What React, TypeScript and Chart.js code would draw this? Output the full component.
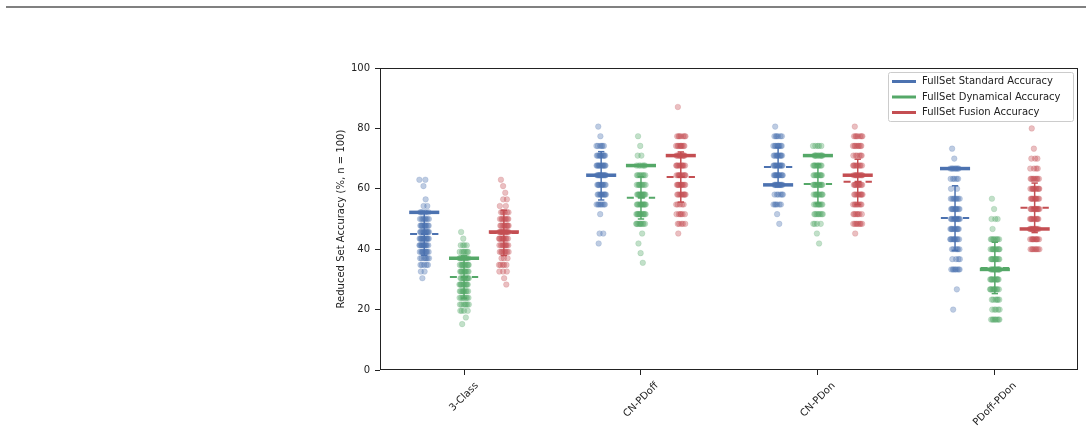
import React, { useEffect, useRef } from 'react';
import { Chart, registerables } from 'chart.js';
Chart.register(...registerables);

const categories = ['3-Class', 'CN-PDoff', 'CN-PDon', 'PDoff-PDon'];
const seriesNames = ['FullSet Standard Accuracy', 'FullSet Dynamical Accuracy', 'FullSet Fusion Accuracy'];
const seriesColors = ['#4C72B0', '#55A868', '#C44E52'];
const seriesFill = ['rgba(76,114,176,0.36)', 'rgba(85,168,104,0.36)', 'rgba(196,78,82,0.36)'];
const yTicks = [0, 20, 40, 60, 80, 100];
const yTitle = 'Reduced Set Accuracy (%, n = 100)';

// Full-set accuracy (solid lines), per category
const fullSetStandard = [52.2, 64.5, 61.3, 66.7];
const fullSetDynamical = [37.0, 67.7, 71.0, 33.3];
const fullSetFusion = [45.7, 71.0, 64.5, 46.7];

// Reduced-set mean (dashed lines) and std (error bars), per category
const reducedMeanStandard = [45.0, 64.3, 67.2, 50.3];
const reducedMeanDynamical = [30.8, 57.0, 61.6, 33.8];
const reducedMeanFusion = [45.4, 63.9, 62.3, 53.7];
const reducedStdStandard = [7.0, 8.0, 6.5, 10.7];
const reducedStdDynamical = [7.0, 7.0, 6.5, 8.5];
const reducedStdFusion = [7.5, 8.3, 7.5, 8.2];

// Reduced-set accuracies as [value, count]
const standard3Class: [number, number][] = [[63.0, 2], [60.9, 1], [56.5, 1], [54.3, 2], [52.2, 6], [50.0, 8], [47.8, 10], [45.7, 12], [43.5, 12], [41.3, 12], [39.1, 10], [37.0, 7], [34.8, 5], [32.6, 2], [30.4, 1]];
const dynamical3Class: [number, number][] = [[45.7, 1], [43.5, 1], [41.3, 4], [39.1, 7], [37.0, 9], [34.8, 10], [32.6, 10], [30.4, 10], [28.3, 10], [26.1, 9], [23.9, 8], [21.7, 7], [19.6, 4], [17.4, 1], [15.2, 1]];
const fusion3Class: [number, number][] = [[63.0, 1], [60.9, 1], [58.7, 1], [56.5, 2], [54.3, 2], [52.2, 6], [50.0, 8], [47.8, 9], [45.7, 12], [43.5, 10], [41.3, 9], [39.1, 8], [37.0, 3], [34.8, 5], [32.6, 3], [30.4, 1], [28.3, 1]];

const standardCNPDoff: [number, number][] = [[80.6, 1], [77.4, 1], [74.2, 6], [71.0, 10], [67.7, 12], [64.5, 14], [61.3, 10], [58.1, 10], [54.8, 8], [51.6, 1], [45.2, 2], [41.9, 1]];
const dynamicalCNPDoff: [number, number][] = [[77.4, 1], [74.2, 1], [71.0, 2], [67.7, 6], [64.5, 8], [61.3, 9], [58.1, 12], [54.8, 12], [51.6, 12], [48.4, 10], [45.2, 1], [41.9, 1], [38.7, 1], [35.5, 1]];
const fusionCNPDoff: [number, number][] = [[87.1, 1], [77.4, 7], [74.2, 9], [71.0, 10], [67.7, 10], [64.5, 10], [61.3, 10], [58.1, 9], [54.8, 5], [51.6, 6], [48.4, 5], [45.2, 1]];

const standardCNPDon: [number, number][] = [[80.6, 1], [77.4, 6], [74.2, 9], [71.0, 10], [67.7, 12], [64.5, 12], [61.3, 12], [58.1, 6], [54.8, 6], [51.6, 1], [48.4, 1]];
const dynamicalCNPDon: [number, number][] = [[74.2, 5], [71.0, 10], [67.7, 10], [64.5, 10], [61.3, 12], [58.1, 10], [54.8, 9], [51.6, 8], [48.4, 4], [45.2, 1], [41.9, 1]];
const fusionCNPDon: [number, number][] = [[80.6, 1], [77.4, 7], [74.2, 8], [71.0, 6], [67.7, 9], [64.5, 10], [61.3, 10], [58.1, 9], [54.8, 8], [51.6, 7], [48.4, 8], [45.2, 1]];

const standardPDoffPDon: [number, number][] = [[73.3, 1], [70.0, 1], [66.7, 8], [63.3, 5], [60.0, 2], [56.7, 8], [53.3, 10], [50.0, 12], [46.7, 10], [43.3, 10], [40.0, 6], [36.7, 4], [33.3, 8], [26.7, 1], [20.0, 1]];
const dynamicalPDoffPDon: [number, number][] = [[56.7, 1], [53.3, 1], [50.0, 3], [46.7, 1], [43.3, 8], [40.0, 10], [36.7, 10], [33.3, 14], [30.0, 10], [26.7, 10], [23.3, 6], [20.0, 5], [16.7, 8]];
const fusionPDoffPDon: [number, number][] = [[80.0, 1], [73.3, 1], [70.0, 3], [66.7, 4], [63.3, 8], [60.0, 10], [56.7, 10], [53.3, 12], [50.0, 10], [46.7, 12], [43.3, 10], [40.0, 8]];

const reducedData = [
  [standard3Class, standardCNPDoff, standardCNPDon, standardPDoffPDon],
  [dynamical3Class, dynamicalCNPDoff, dynamicalCNPDon, dynamicalPDoffPDon],
  [fusion3Class, fusionCNPDoff, fusionCNPDon, fusionPDoffPDon],
];
const fullSet = [fullSetStandard, fullSetDynamical, fullSetFusion];
const reducedMean = [reducedMeanStandard, reducedMeanDynamical, reducedMeanFusion];
const reducedStd = [reducedStdStandard, reducedStdDynamical, reducedStdFusion];

const GROUP_OFFSET = [-0.225, 0, 0.225];
const JITTER = 0.055;
const HALF_LINE = 0.085;
const HALF_DASH = 0.08;
const HALF_CAP = 0.018;
const FONT = "'DejaVu Sans', sans-serif";

function frac(v: number) { return v - Math.floor(v); }

const overlayPlugin = {
  id: 'overlay',
  afterDraw(chart: any) {
    const { ctx, chartArea } = chart;
    const xs = chart.scales.x;
    ctx.save();
    // frame
    ctx.strokeStyle = '#222';
    ctx.lineWidth = 1;
    ctx.strokeRect(Math.round(chartArea.left) + 0.5, Math.round(chartArea.top) + 0.5,
      Math.round(chartArea.right - chartArea.left) - 1, Math.round(chartArea.bottom - chartArea.top) - 1);
    // x labels, rotated 45, centered like matplotlib
    ctx.font = `10px ${FONT}`;
    ctx.fillStyle = '#222';
    ctx.textAlign = 'center';
    ctx.textBaseline = 'middle';
    const h = 11.6;
    categories.forEach((c, i) => {
      const w = ctx.measureText(c).width;
      const side = (w + h) / Math.SQRT2;
      const cx = xs.getPixelForValue(i);
      const cy = chartArea.bottom + 10 + side / 2;
      ctx.save();
      ctx.translate(cx, cy);
      ctx.rotate(-Math.PI / 4);
      ctx.fillText(c, 0, 0);
      ctx.restore();
    });
    // legend
    const bx = 888.5, by = 72.5, bw = 185, bh = 49;
    ctx.beginPath();
    if ((ctx as any).roundRect) (ctx as any).roundRect(bx, by, bw, bh, 2); else ctx.rect(bx, by, bw, bh);
    ctx.fillStyle = 'rgba(255,255,255,0.8)';
    ctx.fill();
    ctx.strokeStyle = '#cccccc';
    ctx.lineWidth = 1;
    ctx.stroke();
    ctx.textAlign = 'left';
    const rows = [81.5, 97, 112.5];
    seriesNames.forEach((n, i) => {
      ctx.strokeStyle = seriesColors[i];
      ctx.lineWidth = 3;
      ctx.beginPath();
      ctx.moveTo(892, rows[i]);
      ctx.lineTo(916, rows[i]);
      ctx.stroke();
      ctx.fillStyle = '#222';
      ctx.fillText(n, 922, rows[i]);
    });
    ctx.restore();
  },
};

export default function App() {
  const ref = useRef<HTMLCanvasElement>(null);
  useEffect(() => {
    if (!ref.current) return;
    const datasets: any[] = [];
    for (let s = 0; s < 3; s++) {
      for (let c = 0; c < 4; c++) {
        const cx = c + GROUP_OFFSET[s];
        const pts: any[] = [];
        reducedData[s][c].forEach(([v, n], k) => {
          for (let j = 0; j < n; j++) {
            const off = n === 1 ? (frac(k * 0.37) - 0.5) * JITTER * 0.6 : (frac(j * 0.618034 + k * 0.2718) - 0.5) * JITTER;
            pts.push({ x: cx + off, y: v });
          }
        });
        datasets.push({
          data: pts, showLine: false, pointRadius: 2.8, pointHoverRadius: 2.8,
          backgroundColor: seriesFill[s], borderColor: seriesFill[s], pointBorderWidth: 0.5, order: 5,
        });
        const m = reducedMean[s][c], sd = reducedStd[s][c];
        // error bar
        datasets.push({
          data: [{ x: cx, y: m - sd }, { x: cx, y: m + sd }], showLine: true, pointRadius: 0,
          borderColor: seriesColors[s], borderWidth: 1.5, order: 3,
        });
        [m - sd, m + sd].forEach((yv) => datasets.push({
          data: [{ x: cx - HALF_CAP, y: yv }, { x: cx + HALF_CAP, y: yv }], showLine: true, pointRadius: 0,
          borderColor: seriesColors[s], borderWidth: 1.5, order: 3,
        }));
        // dashed mean
        datasets.push({
          data: [{ x: cx - HALF_DASH, y: m }, { x: cx + HALF_DASH, y: m }], showLine: true, pointRadius: 0,
          borderColor: seriesColors[s], borderWidth: 2, borderDash: [7, 4], order: 2,
        });
        // solid full-set
        datasets.push({
          data: [{ x: cx - HALF_LINE, y: fullSet[s][c] }, { x: cx + HALF_LINE, y: fullSet[s][c] }], showLine: true, pointRadius: 0,
          borderColor: seriesColors[s], borderWidth: 3.5, order: 1,
        });
      }
    }
    const chart = new Chart(ref.current, {
      type: 'scatter',
      data: { datasets },
      options: {
        responsive: false,
        animation: false,
        devicePixelRatio: 1,
        events: [],
        layout: { padding: { left: 335, right: 14, top: 68, bottom: 0 } },
        plugins: { legend: { display: false }, tooltip: { enabled: false } },
        scales: {
          x: {
            type: 'linear', min: -0.475, max: 3.47,
            afterBuildTicks: (sc: any) => { sc.ticks = categories.map((_, i) => ({ value: i })); },
            afterFit: (sc: any) => { sc.height = 65; },
            ticks: { display: false },
            grid: { drawOnChartArea: false, drawTicks: true, tickLength: 5, color: '#222' },
            border: { display: false },
          },
          y: {
            type: 'linear', min: 0, max: 100,
            afterBuildTicks: (sc: any) => { sc.ticks = yTicks.map((v) => ({ value: v })); },
            afterFit: (sc: any) => { sc.width = 45; },
            ticks: { color: '#222', font: { family: FONT, size: 10 }, padding: 5 },
            grid: { drawOnChartArea: false, drawTicks: true, tickLength: 5, color: '#222' },
            border: { display: false },
            title: { display: true, text: yTitle, color: '#222', font: { family: FONT, size: 10 }, padding: 0 },
          },
        },
      },
      plugins: [overlayPlugin],
    });
    return () => chart.destroy();
  }, []);
  return (
    <div style={{ position: 'fixed', left: 0, top: 0, width: 1092, height: 435, background: '#fff' }}>
      <div style={{ position: 'absolute', left: 6, top: 6, width: 1080, height: 2, background: '#808080' }} />
      <canvas ref={ref} width={1092} height={435} style={{ position: 'absolute', left: 0, top: 0 }} />
    </div>
  );
}
